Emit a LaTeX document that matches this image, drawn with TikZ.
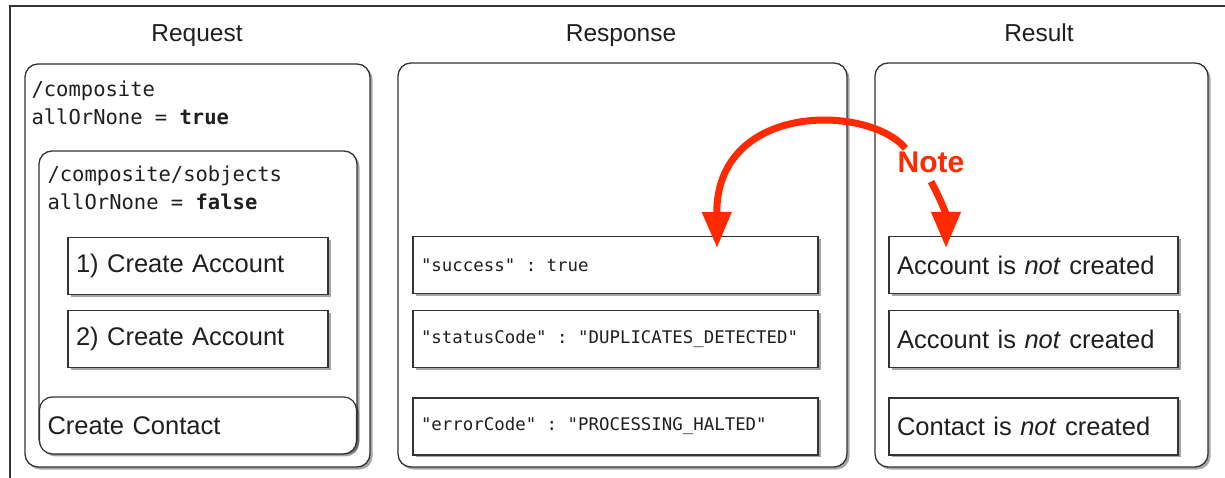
\documentclass[tikz,border=0pt]{standalone}
\usepackage{fontspec}
\setmainfont{Liberation Sans}
\setmonofont{DejaVu Sans Mono}
\usetikzlibrary{positioning,shadows,arrows.meta}
\definecolor{notered}{HTML}{FF2A00}
\definecolor{linegray}{HTML}{333333}
\newcommand{\monosp}{\hspace{0.602em}}

\begin{document}
\begin{tikzpicture}[x=1pt, y=-1pt, every node/.style={text=black!88}]
    \tikzset{
        boxshadow/.style = {drop shadow={shadow xshift=2.5pt, shadow yshift=-2.5pt, fill=black, opacity=0.35}},
        colbox/.style = {rectangle, rounded corners=13pt, line width=1.3pt, draw=linegray, fill=white, boxshadow},
        rowbox/.style = {rectangle, line width=1.2pt, draw=linegray, fill=white, minimum height=57pt, inner xsep=8pt, align=left, font=\fontsize{25.5}{30}\selectfont, boxshadow},
        coltitle/.style = {anchor=base, font=\fontsize{24.5}{29}\selectfont},
        reqmono/.style = {anchor=north west, inner sep=0pt, align=left, font=\ttfamily\fontsize{20.5}{27.5}\selectfont},
        respmono/.style = {font=\ttfamily\fontsize{17.4}{21}\selectfont},
        notelabel/.style = {text=notered, inner sep=1pt, font=\bfseries\fontsize{30}{36}\selectfont},
        notearrow/.style = {line width=7pt, draw=notered, -{Triangle[width=28pt,length=36pt]}},
    }
    \useasboundingbox (0,0) rectangle (1225,478);
    \draw [line width=1.4pt, draw=linegray] (10,6) rectangle (1240,495);

    % column titles
    \node (req_title) [coltitle] at (197,42) {Request};
    \node (resp_title) [coltitle] at (621,42) {Response};
    \node (res_title) [coltitle] at (1039,42) {Result};

    % request side
    \node (request) [colbox, minimum width=345pt, minimum height=403pt] at (197.5,265.5) {};
    \node (req_text) [reqmono] at ([shift={(7,17.5)}]request.north west) {/composite\\allOrNone\monosp=\monosp\textbf{true}};
    \node (sobjects) [colbox, minimum width=318pt, minimum height=301pt] at (198,301.5) {};
    \node (sobj_text) [reqmono] at ([shift={(9,15.5)}]sobjects.north west) {/composite/sobjects\\allOrNone\monosp=\monosp\textbf{false}};
    \node (acc1) [rowbox, text width=244pt] at (198,266) {1) Create Account};
    \node (acc2) [rowbox, text width=244pt, below=15pt of acc1] {2) Create Account};
    \node (contact) [rowbox, rounded corners=13pt, text width=301pt, below=28pt of acc2] {Create Contact};

    % response side
    \node (response) [colbox, minimum width=449pt, minimum height=404pt] at (622.5,265) {};
    \node (success) [rowbox, respmono, text width=389pt] at (615.5,265) {"success"\monosp:\monosp true};
    \node (status) [rowbox, respmono, text width=389pt, below=16pt of success] {"statusCode"\monosp:\monosp"DUPLICATES\_DETECTED"};
    \node (error) [rowbox, respmono, text width=389pt, below=29pt of status] {"errorCode"\monosp:\monosp"PROCESSING\_HALTED"};

    % result side
    \node (result) [colbox, minimum width=333pt, minimum height=404pt] at (1041.5,265) {};
    \node (res_acc1) [rowbox, text width=273pt] at (1033.5,265) {Account is \textit{not} created};
    \node (res_acc2) [rowbox, text width=273pt, below=16pt of res_acc1] {Account is \textit{not} created};
    \node (res_contact) [rowbox, text width=273pt, below=29pt of res_acc2] {Contact is \textit{not} created};

    % note
    \node (note) [notelabel] at (931,162) {Note};
    \coordinate (succ_tip) at (717,248);
    \coordinate (res_tip) at (946,248);
    \draw [notearrow] ([xshift=9pt, yshift=2pt]note.north west) .. controls (868,104) and (716,102) .. (succ_tip);
    \draw [notearrow] ([yshift=-8pt]note.south) .. controls (940,198) and (946,214) .. (res_tip);
\end{tikzpicture}
\end{document}
